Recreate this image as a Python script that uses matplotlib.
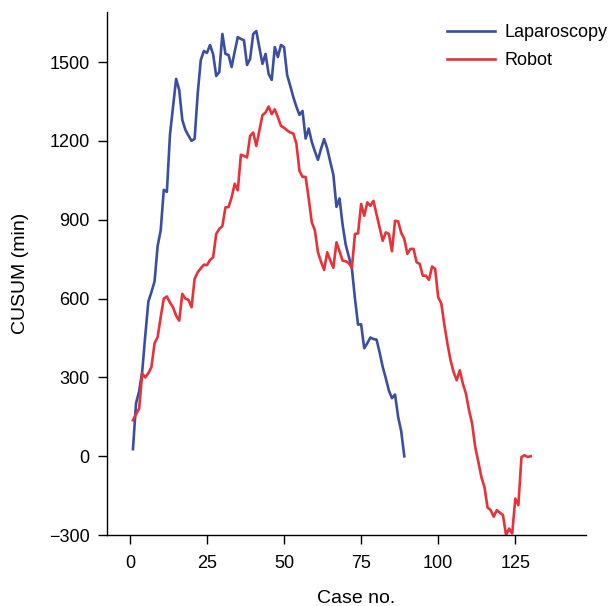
import numpy as np
import matplotlib
matplotlib.use("Agg")
import matplotlib.pyplot as plt

plt.rcParams['font.family'] = ['Liberation Sans', 'DejaVu Sans']

# CUSUM of operative time per case
lap_cusum = [27, 202, 247, 323, 460, 589, 625, 665, 800, 860,
             1014, 1006, 1223, 1330, 1436, 1394, 1280, 1242, 1220, 1200,
             1208, 1380, 1508, 1542, 1535, 1565, 1530, 1447, 1462, 1607,
             1531, 1527, 1481, 1540, 1595, 1588, 1583, 1489, 1512, 1607,
             1618, 1555, 1493, 1531, 1455, 1432, 1557, 1519, 1565, 1557,
             1451, 1410, 1367, 1330, 1299, 1314, 1209, 1247, 1196, 1160,
             1128, 1170, 1207, 1171, 1120, 1071, 949, 981, 880, 805,
             760, 715, 600, 501, 502, 411, 430, 452, 446, 444,
             395, 340, 297, 250, 221, 235, 150, 95, 0]
robot_cusum = [137, 160, 181, 315, 300, 316, 340, 430, 453, 530,
               600, 608, 585, 567, 535, 516, 618, 600, 595, 567,
               675, 700, 715, 729, 727, 747, 757, 846, 865, 876,
               947, 948, 985, 1037, 1012, 1147, 1143, 1137, 1219, 1232,
               1181, 1240, 1298, 1308, 1331, 1302, 1320, 1290, 1257, 1250,
               1240, 1232, 1228, 1190, 1086, 1063, 1063, 980, 890, 860,
               776, 740, 709, 776, 745, 717, 814, 780, 744, 742,
               735, 717, 846, 848, 960, 915, 966, 953, 972, 920,
               870, 820, 852, 846, 780, 896, 894, 850, 827, 770,
               789, 789, 738, 732, 687, 687, 671, 722, 713, 605,
               582, 500, 428, 365, 320, 289, 327, 276, 238, 175,
               124, 35, -20, -79, -117, -195, -205, -230, -205, -215,
               -224, -300, -275, -294, -161, -186, -3, 4, -3, 0]
lap_case = np.arange(1, len(lap_cusum) + 1)
robot_case = np.arange(1, len(robot_cusum) + 1)

xticks = [0, 25, 50, 75, 100, 125]
yticks = [-300, 0, 300, 600, 900, 1200, 1500]

fig = plt.figure(figsize=(6.10, 6.06), dpi=100)
ax = fig.add_axes([0.175, 0.117, 0.786, 0.863])

ax.plot(lap_case, lap_cusum, color="#3a4ea3", lw=1.9, label="Laparoscopy")
ax.plot(robot_case, robot_cusum, color="#e8323a", lw=1.9, label="Robot")

ax.set_xlim(-7.5, 148)
ax.set_ylim(-300, 1690)
ax.set_xticks(xticks)
ax.set_yticks(yticks)
ax.tick_params(direction="out", length=6.5, width=1, labelsize=13)
ax.tick_params(axis="x", pad=8)
ax.tick_params(axis="y", pad=6)
for s in ["top", "right"]:
    ax.spines[s].set_visible(False)
for s in ["left", "bottom"]:
    ax.spines[s].set_linewidth(1)

ax.set_xlabel("Case no.", fontsize=14, labelpad=13, x=0.52)
ax.set_ylabel("CUSUM (min)", fontsize=14, labelpad=14)

fig.legend(loc="upper left", bbox_to_anchor=(0.733, 0.960), frameon=False,
           fontsize=13, handlelength=2.65, handletextpad=0.5,
           labelspacing=0.6, borderpad=0, borderaxespad=0)

fig.savefig("out.png", dpi=100)
